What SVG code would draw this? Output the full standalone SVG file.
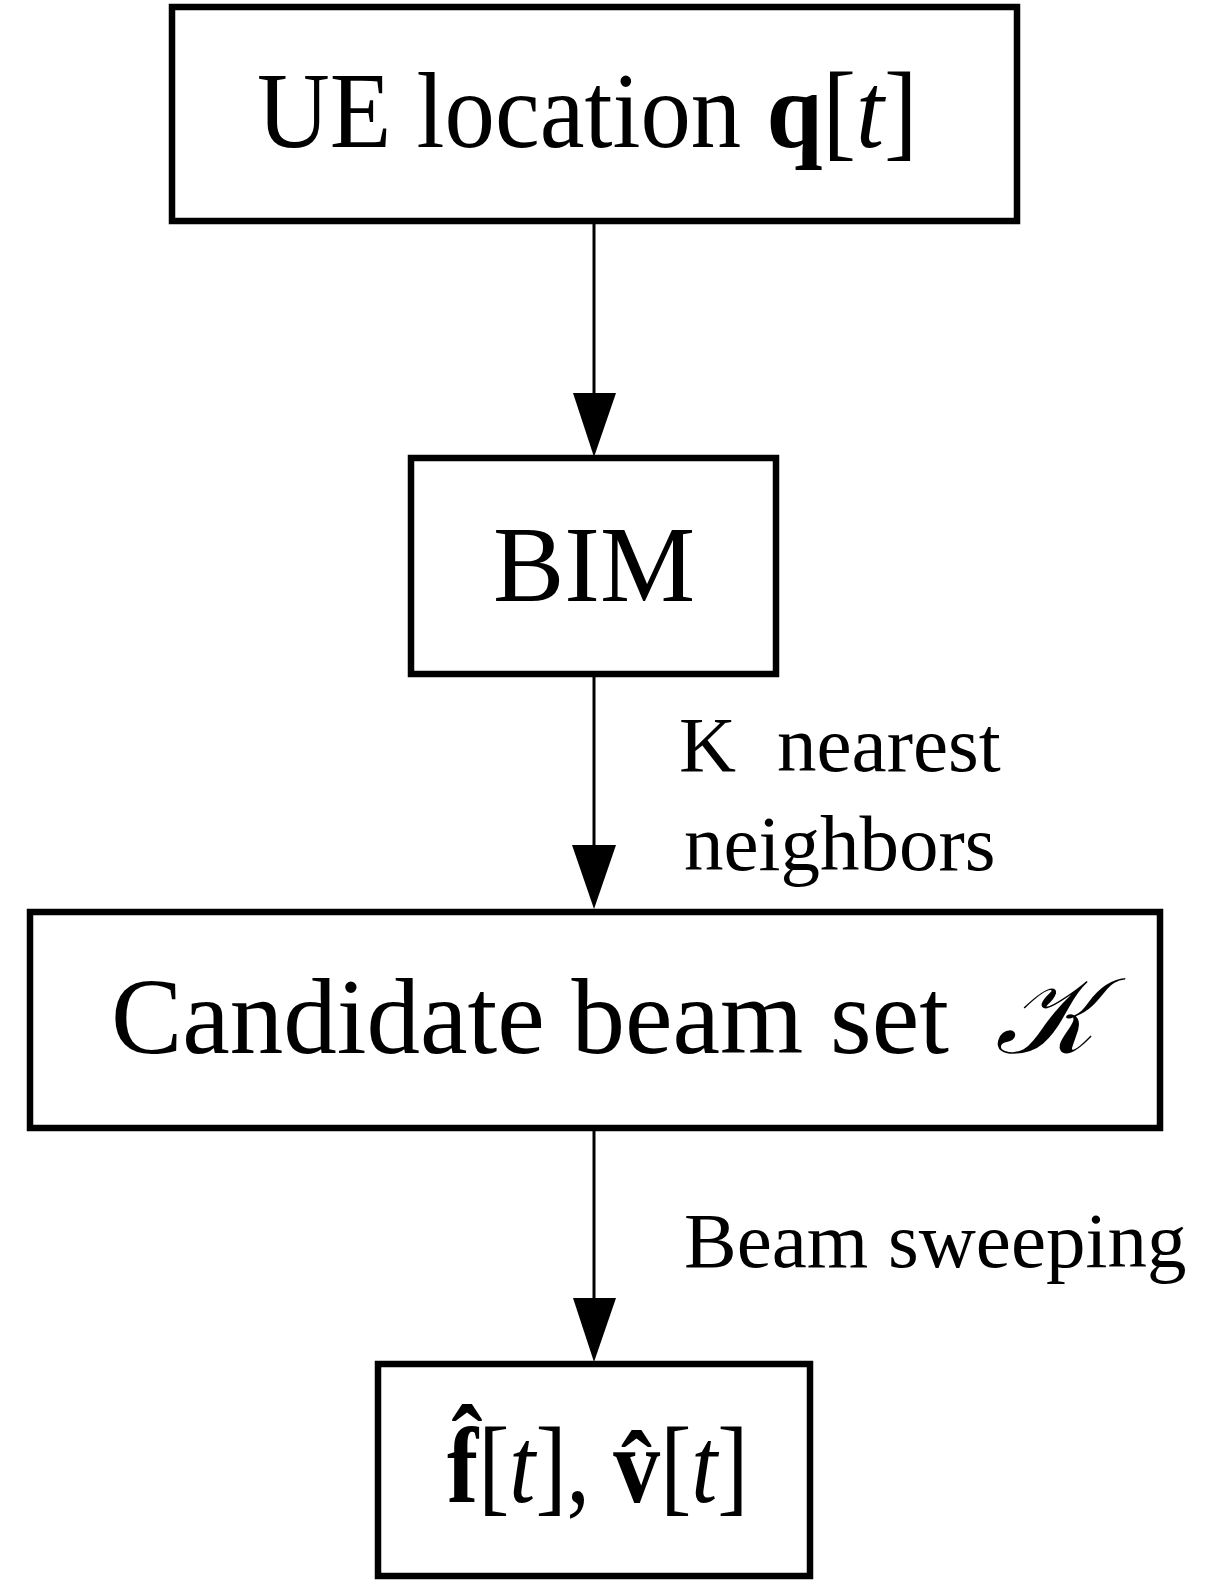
<svg xmlns="http://www.w3.org/2000/svg" width="1232" height="1584" viewBox="0 0 1232 1584">
<style>
.box{fill:#fff;stroke:#000;stroke-width:6.5}
.t{font-family:"Liberation Serif","Times New Roman",serif;fill:#000}
.big{font-size:107px}
.lab{font-size:79px}
.conn{stroke:#000;stroke-width:3;fill:none}
</style>
<rect width="1232" height="1584" fill="#fff"/>
<g id="connectors">
<path class="conn" d="M594,222 V393"/><path d="M573,393 L616,393 L594,457 Z" fill="#000"/>
<path class="conn" d="M594,677 V846"/><path d="M572,845 L616,845 L594,909 Z" fill="#000"/>
<path class="conn" d="M594,1130 V1300"/><path d="M573,1298 L616,1298 L594,1362 Z" fill="#000"/>
</g>
<g id="node-ue">
<rect class="box" x="172" y="7" width="845" height="214"/>
<text class="t big" transform="translate(257,147) scale(0.942,1)" x="0" y="0">UE location <tspan font-weight="bold">q</tspan>[<tspan font-style="italic">t</tspan>]</text>
</g>
<g id="node-bim">
<rect class="box" x="411" y="458" width="365" height="216"/>
<text class="t big" x="594" y="601" text-anchor="middle">BIM</text>
</g>
<g id="node-candidate">
<rect class="box" x="30" y="912" width="1130" height="216"/>
<text class="t big" x="111" y="1053">Candidate beam set <tspan x="995" font-family="DejaVu Serif, serif" font-style="italic">𝒦</tspan></text>
</g>
<g id="node-out">
<rect class="box" x="378" y="1364" width="432" height="212"/>
<text class="t big" transform="translate(447,1502) scale(0.875,1)" x="0" y="0"><tspan font-weight="bold">f̂</tspan>[<tspan font-style="italic">t</tspan>], <tspan font-weight="bold">v̂</tspan>[<tspan font-style="italic">t</tspan>]</text>
</g>
<g id="labels">
<text class="t lab" x="679" y="771">K<tspan x="777">nearest</tspan></text>
<text class="t lab" x="684" y="870">neighbors</text>
<text class="t lab" x="684" y="1267">Beam sweeping</text>
</g>
</svg>
